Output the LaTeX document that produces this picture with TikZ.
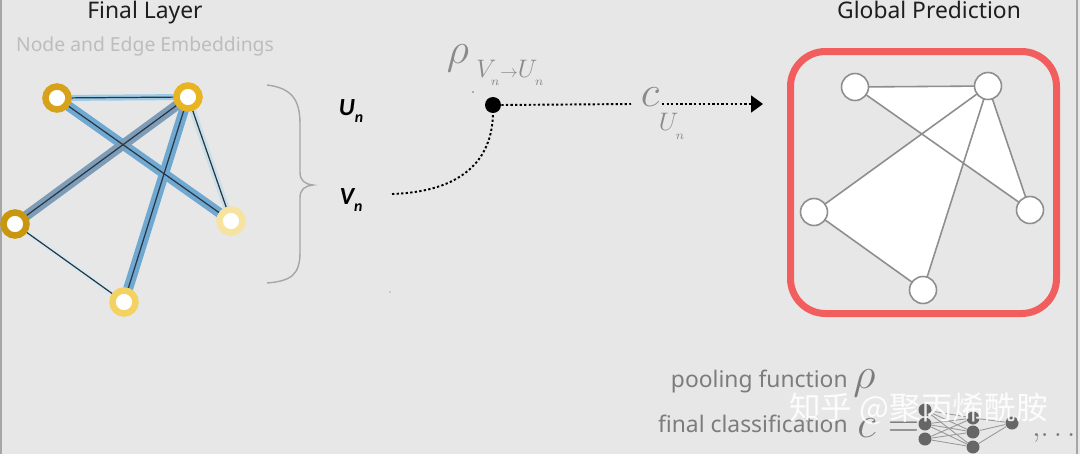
\documentclass[tikz,border=0pt]{standalone}
\usepackage{amsmath}
\usepackage{fontspec}
\setmainfont{Noto Sans}
\newfontfamily\varfont{Carlito}
\newfontfamily\cjkfont{Noto Sans CJK SC}
\usetikzlibrary{arrows.meta,positioning}
\definecolor{canvas}{HTML}{E7E7E7}
\definecolor{ink}{HTML}{1E1E1E}
\definecolor{faint}{HTML}{BDBDBD}
\definecolor{mathgrey}{HTML}{8A8A8A}
\definecolor{notegrey}{HTML}{7C7C7C}
\definecolor{edgeink}{HTML}{2A3644}
\definecolor{glowA}{HTML}{6FA9D2}
\definecolor{glowB}{HTML}{7D9CB8}
\definecolor{glowC}{HTML}{9DCBE6}
\definecolor{glowD}{HTML}{C9DFEA}
\definecolor{goldA}{HTML}{D7A219}
\definecolor{goldB}{HTML}{E9B422}
\definecolor{goldC}{HTML}{C8960F}
\definecolor{goldD}{HTML}{F6E3A0}
\definecolor{goldE}{HTML}{F3D261}
\definecolor{frame}{HTML}{F25E5E}
\definecolor{outline}{HTML}{8E8E8E}
\definecolor{netgrey}{HTML}{666666}
\tikzset{
  embnode/.style={circle,fill=white,draw=#1,line width=0.13cm,minimum size=0.46cm,inner sep=0pt},
  glow/.style={draw=#1,line cap=round},
  thinedge/.style={draw=edgeink,line width=0.7pt},
  prednode/.style={circle,fill=white,draw=outline,line width=0.9pt,minimum size=0.54cm,inner sep=0pt},
  prededge/.style={draw=outline,line width=0.9pt},
  title/.style={font=\fontsize{13}{15}\selectfont,text=ink,inner sep=0pt},
  note/.style={font=\fontsize{13}{15}\selectfont,text=notegrey,inner sep=0pt},
  setlabel/.style={font=\varfont\bfseries\itshape\fontsize{14}{16}\selectfont,text=black,inner sep=0pt},
  mathlabel/.style={text=mathgrey,inner sep=0pt},
  dotflow/.style={line width=1.1pt,dash pattern=on 1.3pt off 1.3pt},
  netnode/.style={circle,fill=netgrey,minimum size=0.26cm,inner sep=0pt},
  netedge/.style={draw=black!40,line width=0.5pt}
}
\newcommand{\lowsub}[1]{\raisebox{-0.35ex}{$\scriptscriptstyle #1$}}

\begin{document}
\begin{tikzpicture}[x=0.02cm,y=-0.02cm]
  % canvas
  \fill[canvas] (0,0) rectangle (1080,454);
  \useasboundingbox (0,0) rectangle (1080,454);
  \draw[black!35,line width=0.8pt] (1,0) -- (1,454);
  \draw[black!35,line width=0.8pt] (1077,0) -- (1077,454);

  % titles
  \node[title] (layertitle) at (145,13) {Final Layer};
  \node[note,text=faint,font=\fontsize{11}{13}\selectfont] (embtitle) at (145,46) {Node and Edge Embeddings};
  \node[title] (predtitle) at (929,10) {Global Prediction};

  % final layer graph
  \coordinate (A) at (57,98);
  \coordinate (B) at (188,97);
  \coordinate (C) at (15,224);
  \coordinate (D) at (231,221);
  \coordinate (E) at (124,302);
  \draw[glow=glowC,line width=0.12cm] (A) -- (B);
  \draw[glow=glowD,line width=0.13cm] (B) -- (D);
  \draw[glow=glowD!70!white,line width=0.11cm] (C) -- (E);
  \draw[glow=glowA,line width=0.2cm] (A) -- (D);
  \draw[glow=glowB,line width=0.2cm] (B) -- (C);
  \draw[glow=glowA,line width=0.2cm] (B) -- (E);
  \foreach \s/\t in {A/B,A/D,B/C,B/E,B/D,C/E}
    \draw[thinedge] (\s) -- (\t);
  \node[embnode=goldA] (nA) at (A) {};
  \node[embnode=goldB] (nB) at (B) {};
  \node[embnode=goldC] (nC) at (C) {};
  \node[embnode=goldD] (nD) at (D) {};
  \node[embnode=goldE] (nE) at (E) {};

  % brace
  \draw[black!35,line width=0.8pt] (267,85) .. controls (292,88) and (300,100) .. (300,124)
    -- (300,172) .. controls (300,181) and (305,184) .. (313,185)
    .. controls (305,186) and (300,189) .. (300,198)
    -- (300,252) .. controls (300,274) and (292,281) .. (267,283);

  % node and edge sets
  \node[setlabel] (unodes) at (351,111) {U\raisebox{-0.6ex}{\fontsize{9}{10}\selectfont n}};
  \node[setlabel] (vnodes) at (351,200) {V\raisebox{-0.6ex}{\fontsize{9}{10}\selectfont n}};
  \fill[black!55] (390,292) circle (0.7);

  % pooling and classification
  \coordinate (vstart) at (392,194);
  \node[circle,fill=black,minimum size=0.32cm,inner sep=0pt] (pool) at (493,105) {};
  \node[mathlabel,font=\fontsize{24}{26}\selectfont] (rho) at (458,58) {$\rho$};
  \node[mathlabel,anchor=west,font=\fontsize{14}{16}\selectfont] (rhosub) at (476,73)
    {$V_{\lowsub{n}}{\scriptstyle\to}U_{\lowsub{n}}$};
  \fill[black!55] (473,92) circle (0.8);
  \node[mathlabel,font=\fontsize{28}{30}\selectfont] (cls) at (650,97) {$c$};
  \node[mathlabel,font=\fontsize{15}{17}\selectfont] (clssub) at (672,126)
    {$U_{\lowsub{n}}$};
  \coordinate (arrowend) at (763,104);
  \draw[dotflow] (vstart) .. controls (452,192) and (492,168) .. (pool.south);
  \draw[dotflow] (pool.east) -- (631,104);
  \draw[dotflow,-{Triangle[length=0.24cm,width=0.34cm]}] (662,104) -- (arrowend);

  % global prediction graph
  \draw[frame,line width=0.14cm,rounded corners=0.7cm] (790.5,51.5) rectangle (1056.5,313.5);
  \coordinate (a) at (855,87);
  \coordinate (b) at (988,86);
  \coordinate (c) at (814,212);
  \coordinate (d) at (1030,210);
  \coordinate (e) at (923,290);
  \fill[white] (a) -- (b) -- (d) -- cycle;
  \fill[white] (b) -- (c) -- (e) -- cycle;
  \foreach \s/\t in {a/b,a/d,b/c,b/e,b/d,c/e}
    \draw[prededge] (\s) -- (\t);
  \node[prednode] (pa) at (a) {};
  \node[prednode] (pb) at (b) {};
  \node[prednode] (pc) at (c) {};
  \node[prednode] (pd) at (d) {};
  \node[prednode] (pe) at (e) {};

  % legend
  \node[note,anchor=base east] (poolnote) at (848,387) {pooling function};
  \node[mathlabel,anchor=base west,text=notegrey,font=\fontsize{24}{26}\selectfont] (poolrho) at (853,388) {$\rho$};
  \node[note,anchor=base east] (clsnote) at (848,432) {final classification};
  \node[mathlabel,anchor=base west,text=notegrey,font=\fontsize{26}{28}\selectfont] (clsc) at (857,437) {$c=$};
  \foreach \i/\y in {1/410,2/424,3/439} \node[netnode] (in\i) at (925,\y) {};
  \foreach \i/\y in {1/418,2/432,3/447} \node[netnode] (hid\i) at (973,\y) {};
  \node[netnode] (out) at (1012,423) {};
  \foreach \i in {1,2,3} {
    \foreach \j in {1,2,3} \draw[netedge] (in\i) -- (hid\j);
    \draw[netedge] (hid\i) -- (out);
  }
  \node[mathlabel,anchor=base west,text=notegrey,font=\fontsize{18}{20}\selectfont] (more) at (1032,436) {$,\!\ldots$};

  % watermark
  \node[font=\cjkfont\fontsize{18}{20}\selectfont,text=white,text opacity=0.88,anchor=west,inner sep=0pt] (mark) at (789,409) {知乎 @聚丙烯酰胺};
\end{tikzpicture}
\end{document}
